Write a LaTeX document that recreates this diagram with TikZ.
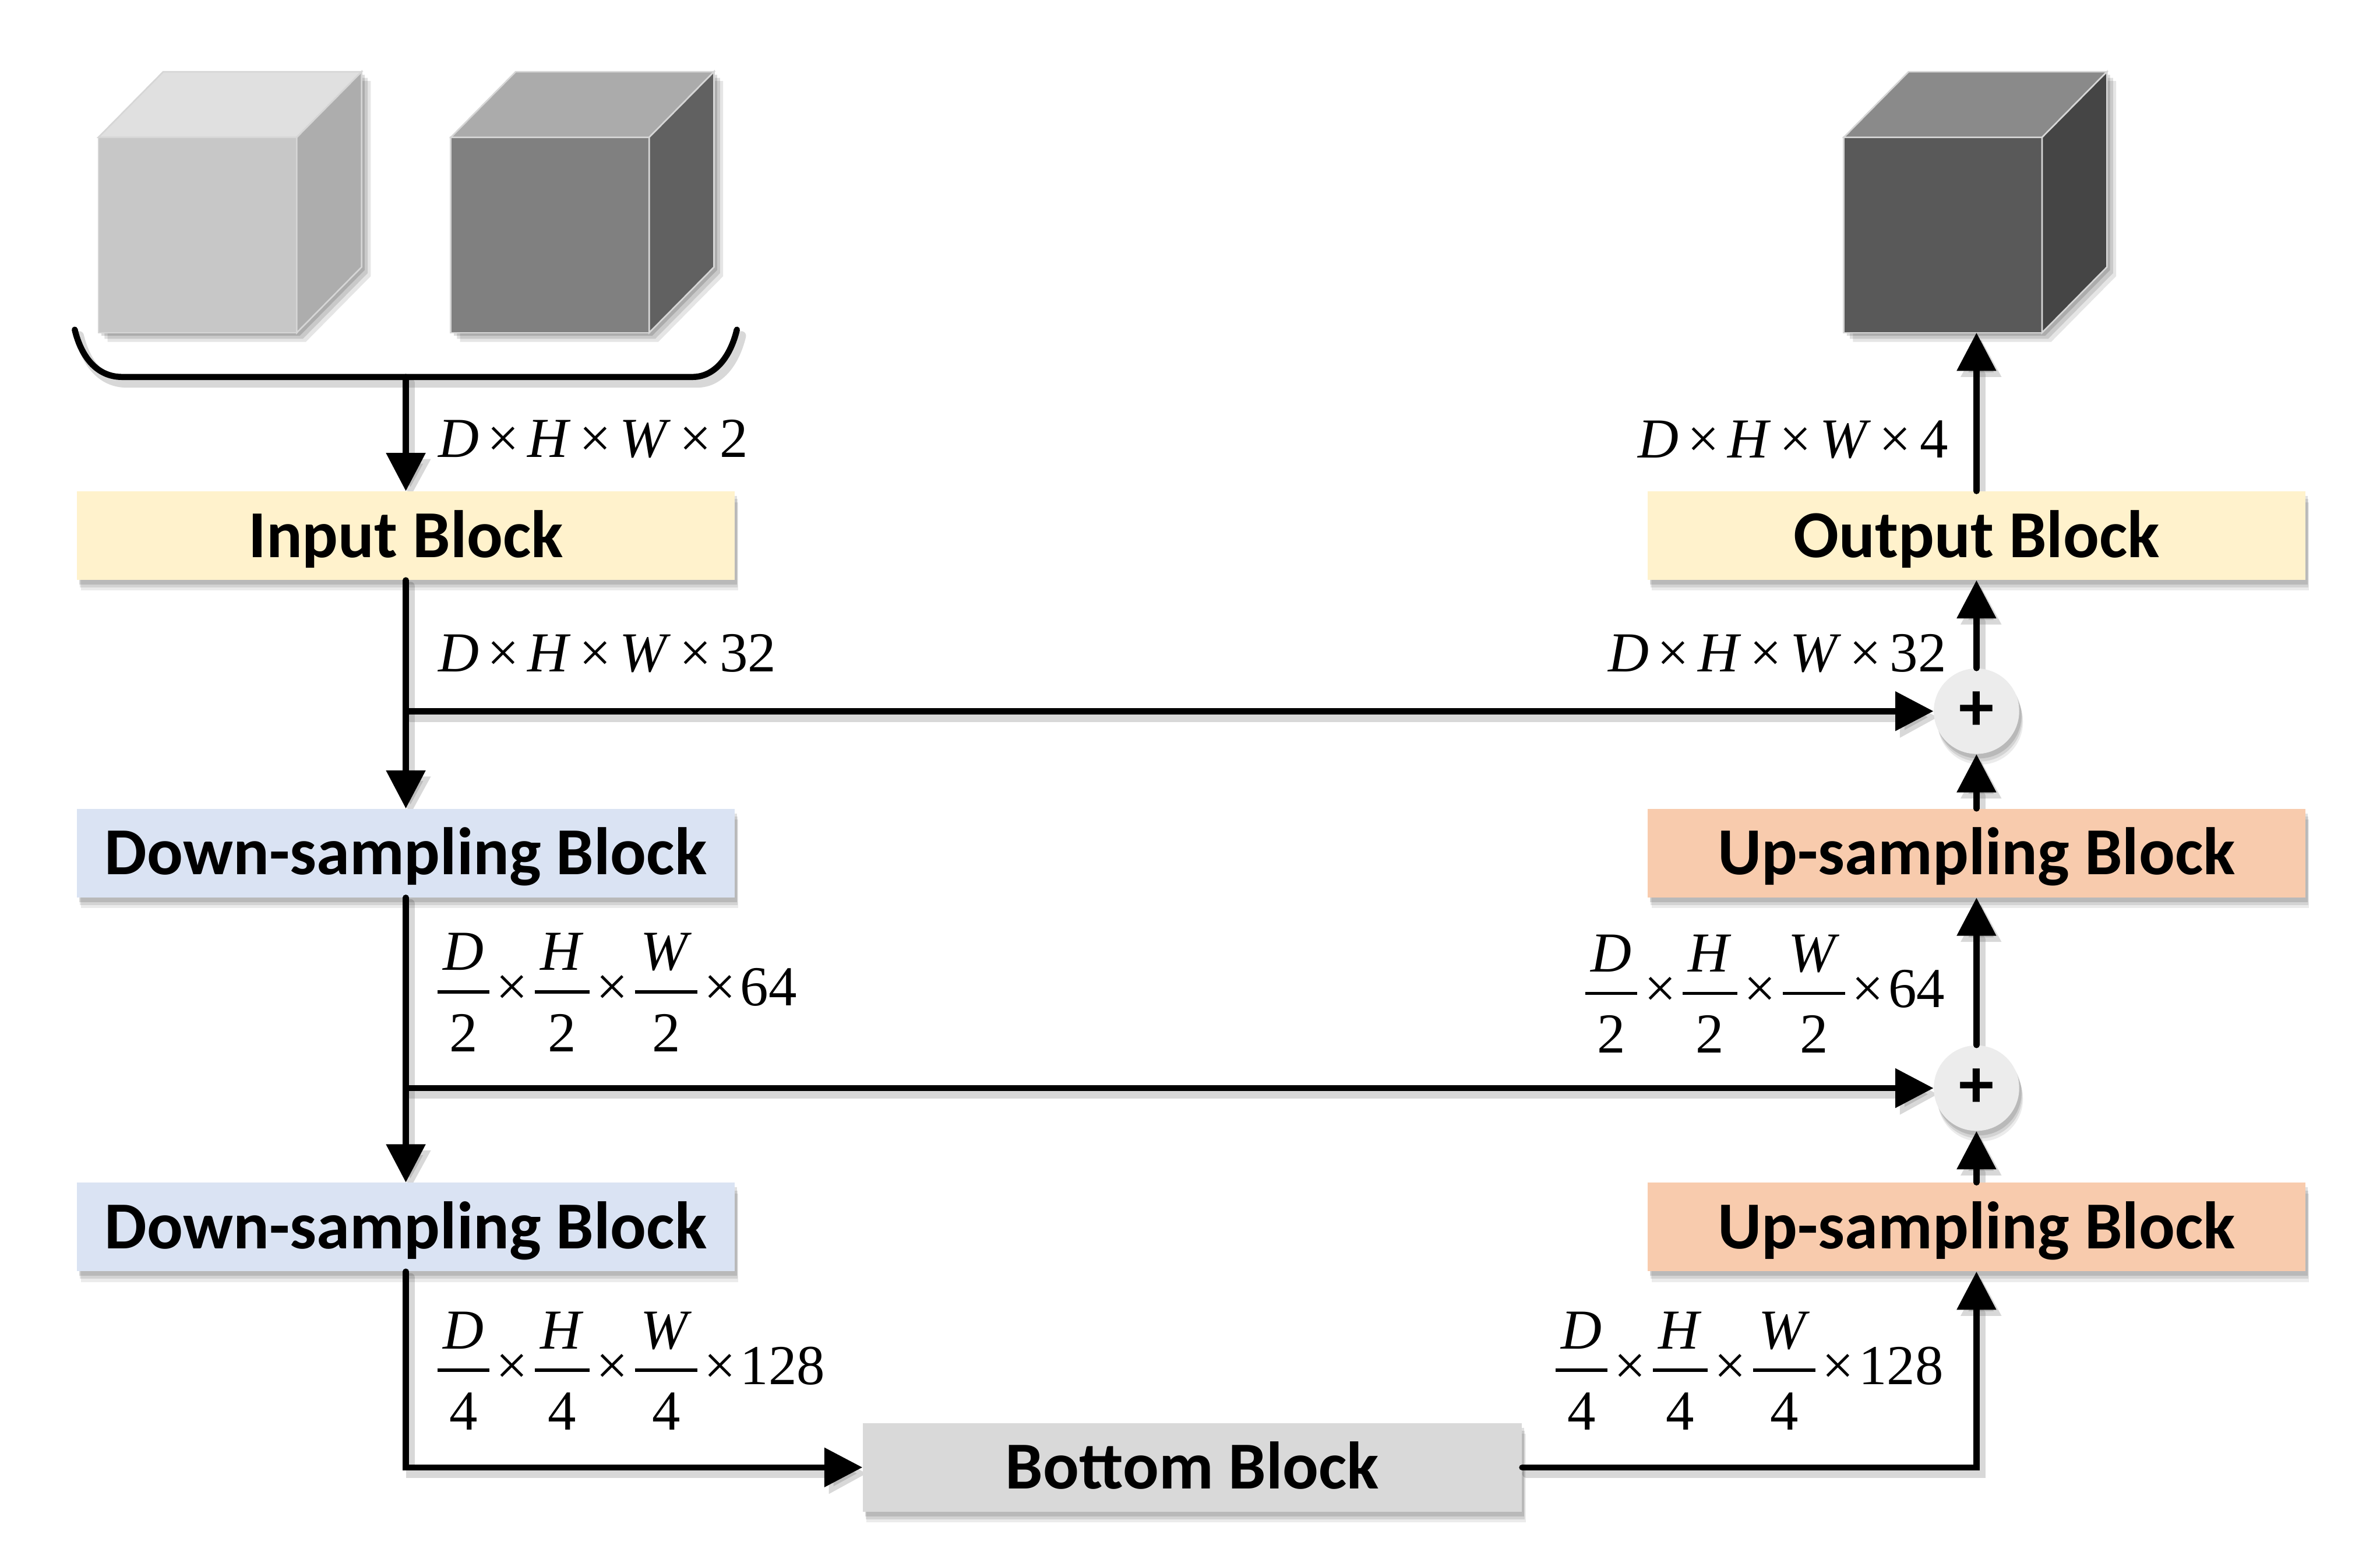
\documentclass[tikz,border=0pt]{standalone}
\usepackage{fontspec}
\setmainfont{Liberation Serif}
\newfontfamily\labfont{Liberation Serif}[ItalicFont={Liberation Serif Italic}]
\newfontfamily\blockfont{Carlito}
\usetikzlibrary{arrows.meta,shadows}
\pgfdeclarelayer{background}
\pgfsetlayers{background,main}
\definecolor{inY}{HTML}{FFF2CC}
\definecolor{dnB}{HTML}{DAE3F3}
\definecolor{upO}{HTML}{F8CBAD}
\definecolor{btG}{HTML}{D9D9D9}
\definecolor{plG}{HTML}{ECECEC}
\definecolor{cedge}{HTML}{D6D6D6}
\newcommand\fr[2]{%
  \setbox0=\hbox{\kern0.1em\textit{#1}\kern0.1em}%
  \dimen0=\wd0
  \kern0.04em
  \rlap{\raise0.63em\hbox to\dimen0{\hss\textit{#1}\hss}}%
  \rlap{\raise0.215em\hbox{\vrule width\dimen0 height0.06em depth0pt}}%
  \lower0.81em\hbox to\dimen0{\hss#2\hss}%
  \kern0.04em}
\newcommand\tm{\kern0.08em×\kern0.08em}
\newcommand\tmm{\kern0.15em×\kern0.15em}
\newcommand\cubeat[5]{%
  \begin{scope}[shift={(#1,#2)}]
    \foreach \s/\o in {6/0.10,4/0.12,2/0.14}{
      \fill[black, opacity=\o, shift={(\s,\s)}]
        (0,0) -- (42.5,-43) -- (172.5,-43) -- (172.5,85) -- (130,128) -- (0,128) -- cycle;}
    \filldraw[fill=#3, draw=cedge, line width=1pt] (0,0) rectangle (130,128);
    \filldraw[fill=#4, draw=cedge, line width=1pt] (0,0) -- (130,0) -- (172.5,-43) -- (42.5,-43) -- cycle;
    \filldraw[fill=#5, draw=cedge, line width=1pt] (130,0) -- (172.5,-43) -- (172.5,85) -- (130,128) -- cycle;
  \end{scope}}
\newcommand\allconns{%
  \draw[conn] (49,216) .. controls (53,233) and (63,247) .. (80,247) -- (454,247) .. controls (469,247) and (479,233) .. (483,216);
  \draw[arr] (brk) -- (input.north);
  \draw[arr] (input.south) -- (down1.north);
  \draw[arr] (b1) -- (plus1.west);
  \draw[arr] (down1.south) -- (down2.north);
  \draw[arr] (b2) -- (plus2.west);
  \draw[arr] (down2.south) |- (bottom.west);
  \draw[arr] (bottom.east) -| (up2.south);
  \draw[arr] (up2.north) -- (plus2.south);
  \draw[arr] (plus2.north) -- (up1.south);
  \draw[arr] (up1.north) -- (plus1.south);
  \draw[arr] (plus1.north) -- (output.south);
  \draw[arr] (output.north) -- (cube3b);}
\tikzset{
  conn/.style={draw=black, line width=4pt, line cap=round},
  arr/.style={conn, -{Triangle[length=25pt,width=25pt]}},
  softsh/.style={
    drop shadow={shadow xshift=2.5pt, shadow yshift=-7pt, opacity=0.08, fill=black},
    drop shadow={shadow xshift=2pt, shadow yshift=-5pt, opacity=0.10, fill=black},
    drop shadow={shadow xshift=1.5pt, shadow yshift=-3pt, opacity=0.12, fill=black}},
  blk/.style={minimum width=431pt, minimum height=58pt, inner sep=0pt,
    text height=28.3pt, text depth=0pt,
    font=\blockfont\bfseries\fontsize{44}{50}\selectfont, softsh},
  plusc/.style={circle, fill=plG, minimum size=56pt, inner sep=0pt,
    font=\blockfont\bfseries\fontsize{46}{50}\selectfont, softsh},
  lab/.style={inner sep=0pt, font=\labfont\fontsize{37}{44}\selectfont}
}
\begin{document}
\begin{tikzpicture}[x=1pt,y=-1pt]
\begin{pgfonlayer}{background}
\fill[white] (0,0) rectangle (1560,1021.2);
\end{pgfonlayer}
\useasboundingbox (0,0) rectangle (1560,1021.2);
% cubes
\cubeat{64.5}{90}{black!22}{black!12}{black!32}
\cubeat{295.5}{90}{black!50}{black!33}{black!62}
\cubeat{1208.5}{90}{black!65}{black!46}{black!73}
% blocks
\node[blk, fill=inY] (input) at (266,351) {Input Block};
\node[blk, fill=inY] (output) at (1295.5,351) {Output Block};
\node[blk, fill=dnB] (down1) at (266,559) {Down-sampling Block};
\node[blk, fill=upO] (up1) at (1295.5,559) {Up-sampling Block};
\node[blk, fill=dnB] (down2) at (266,804) {Down-sampling Block};
\node[blk, fill=upO] (up2) at (1295.5,804) {Up-sampling Block};
\node[blk, fill=btG, minimum width=432pt] (bottom) at (781.5,961.5) {Bottom Block};
\node[plusc] (plus1) at (1295.5,466) {+};
\node[plusc] (plus2) at (1295.5,713) {+};
\coordinate (brk) at (266,247);
\coordinate (b1) at (266,466);
\coordinate (b2) at (266,713);
\coordinate (cube3b) at (1295.5,218);
% labels
\node[lab, anchor=base west] (l2) at (287,299.5) {\textit{D}\tmm\textit{H}\tmm\textit{W}\tmm2};
\node[lab, anchor=base east] (l4) at (1277,300) {\textit{D}\tmm\textit{H}\tmm\textit{W}\tmm4};
\node[lab, anchor=base west] (l32a) at (287,440) {\textit{D}\tmm\textit{H}\tmm\textit{W}\tmm32};
\node[lab, anchor=base east] (l32b) at (1276,440) {\textit{D}\tmm\textit{H}\tmm\textit{W}\tmm32};
\node[lab, anchor=base west] (l64a) at (285,659) {\fr{D}{2}\tm\fr{H}{2}\tm\fr{W}{2}\tm64};
\node[lab, anchor=base east] (l64b) at (1275,660) {\fr{D}{2}\tm\fr{H}{2}\tm\fr{W}{2}\tm64};
\node[lab, anchor=base west] (l128a) at (285,907) {\fr{D}{4}\tm\fr{H}{4}\tm\fr{W}{4}\tm128};
\node[lab, anchor=base east] (l128b) at (1274,907) {\fr{D}{4}\tm\fr{H}{4}\tm\fr{W}{4}\tm128};
% connector shadows
\begin{pgfonlayer}{background}
\begin{scope}[transform canvas={xshift=3pt,yshift=-4pt},
  conn/.style={draw=black!55, opacity=0.28, line width=6pt, line cap=round}]
\allconns
\end{scope}
\end{pgfonlayer}
\allconns
\end{tikzpicture}
\end{document}
